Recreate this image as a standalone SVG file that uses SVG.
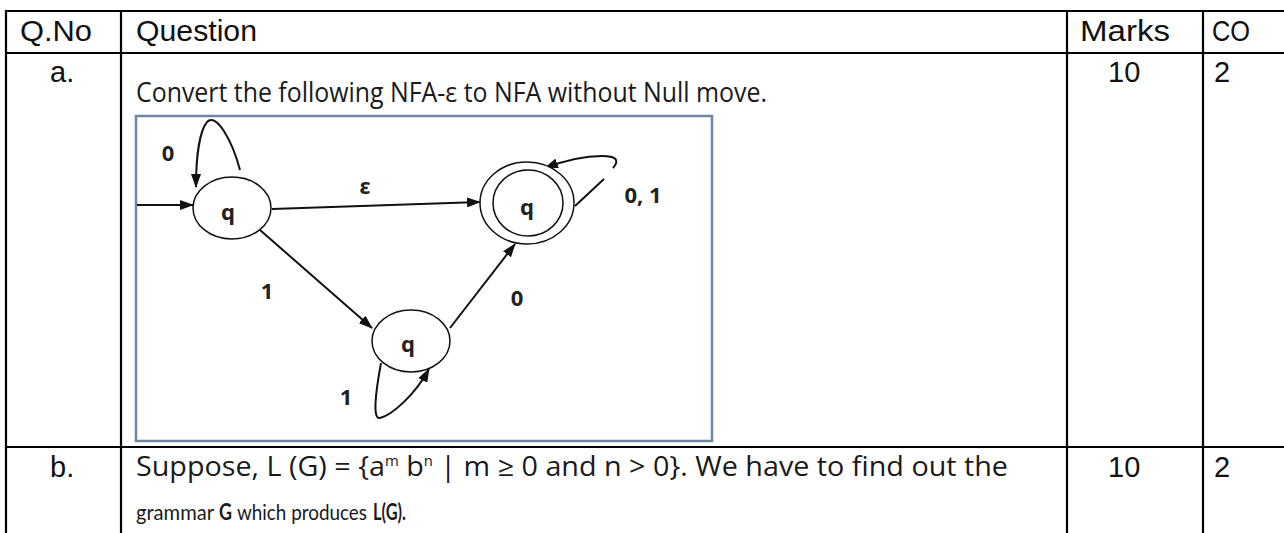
<svg xmlns="http://www.w3.org/2000/svg" width="1284" height="533" viewBox="0 0 1284 533">
<style>
.grid{stroke:#000;stroke-width:2.2;fill:none}
.hd{font-family:"Liberation Sans",Arial,sans-serif;font-size:29px;fill:#111}
.q{font-family:"Open Sans","Noto Sans",sans-serif;font-size:27px;fill:#1a1a1a}
.q2{font-family:Lato,"Open Sans",sans-serif;font-size:22px;fill:#1a1a1a}
.b{font-weight:bold}
.lb{font-family:"Noto Sans","Liberation Sans",sans-serif;font-weight:bold;font-size:22px;fill:#222}
.st{fill:#fff;stroke:#111;stroke-width:1.5}
.ed{fill:none;stroke:#111;stroke-width:2}
</style>
<defs>
<marker id="ah" markerWidth="14" markerHeight="10" refX="13" refY="5" orient="auto" markerUnits="userSpaceOnUse"><path d="M0,0 L14,5 L0,10 z" fill="#111"/></marker>
</defs>
<rect width="1284" height="533" fill="#fff"/>
<g id="table" class="grid">
<line x1="5" y1="11" x2="1284" y2="11"/>
<line x1="5" y1="53" x2="1284" y2="53"/>
<line x1="5" y1="447" x2="1284" y2="447"/>
<line x1="6" y1="10" x2="6" y2="533"/>
<line x1="121" y1="10" x2="121" y2="533"/>
<line x1="1067" y1="10" x2="1067" y2="533"/>
<line x1="1203" y1="10" x2="1203" y2="533"/>
</g>
<g id="header" class="hd">
<text x="20" y="41" textLength="72" lengthAdjust="spacingAndGlyphs">Q.No</text>
<text x="136" y="41" textLength="121" lengthAdjust="spacingAndGlyphs">Question</text>
<text x="1080" y="41" textLength="90" lengthAdjust="spacingAndGlyphs">Marks</text>
<text x="1212" y="41" textLength="38" lengthAdjust="spacingAndGlyphs">CO</text>
</g>
<g id="rowA">
<text class="hd" x="50" y="82">a.</text>
<text class="hd" x="1108" y="82">10</text>
<text class="hd" x="1214" y="82">2</text>
<text class="q" x="136" y="102" textLength="631" lengthAdjust="spacingAndGlyphs">Convert the following NFA-ε to NFA without Null move.</text>
<rect x="136" y="116" width="576" height="325" fill="#fff" stroke="#6d87a6" stroke-width="2.5"/>
</g>
<g id="connectors">
<line class="ed" x1="137" y1="205" x2="193" y2="205" marker-end="url(#ah)"/>
<path class="ed" d="M240,170 C232,140 216,112 207,122 C199,132 196,160 196,187" marker-end="url(#ah)"/>
<line class="ed" x1="272" y1="209" x2="480" y2="202" marker-end="url(#ah)"/>
<line class="ed" x1="260" y1="230" x2="372" y2="328" marker-end="url(#ah)"/>
<line class="ed" x1="450" y1="328" x2="515" y2="244" marker-end="url(#ah)"/>
<path class="ed" d="M381,363 C376,390 372,420 380,418 C392,415 415,395 429,369" marker-end="url(#ah)"/>
<line class="ed" x1="575" y1="206" x2="604" y2="179"/>
<path class="ed" d="M613,168 C620,160 616,156 602,156 C586,156 566,160 545,168" marker-end="url(#ah)"/>
<text class="lb" x="168" y="161" text-anchor="middle">0</text>
<text class="lb" x="365" y="194" text-anchor="middle" font-weight="normal">ε</text>
<text class="lb" x="643" y="203" text-anchor="middle">0, 1</text>
<text class="lb" x="267" y="299" text-anchor="middle">1</text>
<text class="lb" x="517" y="306" text-anchor="middle">0</text>
<text class="lb" x="346" y="405" text-anchor="middle">1</text>
</g>
<g id="q0">
<ellipse class="st" cx="232" cy="208" rx="39" ry="31"/>
<text class="lb" x="228" y="220" text-anchor="middle">q</text>
</g>
<g id="q2">
<ellipse class="st" cx="527" cy="203" rx="47" ry="41"/>
<ellipse class="st" cx="528" cy="203" rx="35" ry="33"/>
<text class="lb" x="527" y="215" text-anchor="middle">q</text>
</g>
<g id="q1">
<ellipse class="st" cx="411" cy="341" rx="39" ry="31"/>
<text class="lb" x="408" y="352" text-anchor="middle">q</text>
</g>
<g id="rowB">
<text class="hd" x="50" y="477">b.</text>
<text class="hd" x="1108" y="477">10</text>
<text class="hd" x="1214" y="477">2</text>
<text class="q" x="136" y="476" textLength="872" lengthAdjust="spacingAndGlyphs">Suppose, L (G) = {a<tspan font-size="14" dy="-10">m</tspan><tspan dy="10"> b</tspan><tspan font-size="14" dy="-10">n</tspan><tspan dy="10"> | m ≥ 0 and n &gt; 0}. We have to find out the</tspan></text>
<text class="q2" x="136" y="520" textLength="78" lengthAdjust="spacingAndGlyphs">grammar</text>
<text class="q2 b" x="219" y="520" textLength="13" lengthAdjust="spacingAndGlyphs">G</text>
<text class="q2" x="237" y="520" textLength="130" lengthAdjust="spacingAndGlyphs">which produces</text>
<text class="q2 b" x="373" y="520" textLength="33" lengthAdjust="spacingAndGlyphs">L(G).</text>
</g>
</svg>
